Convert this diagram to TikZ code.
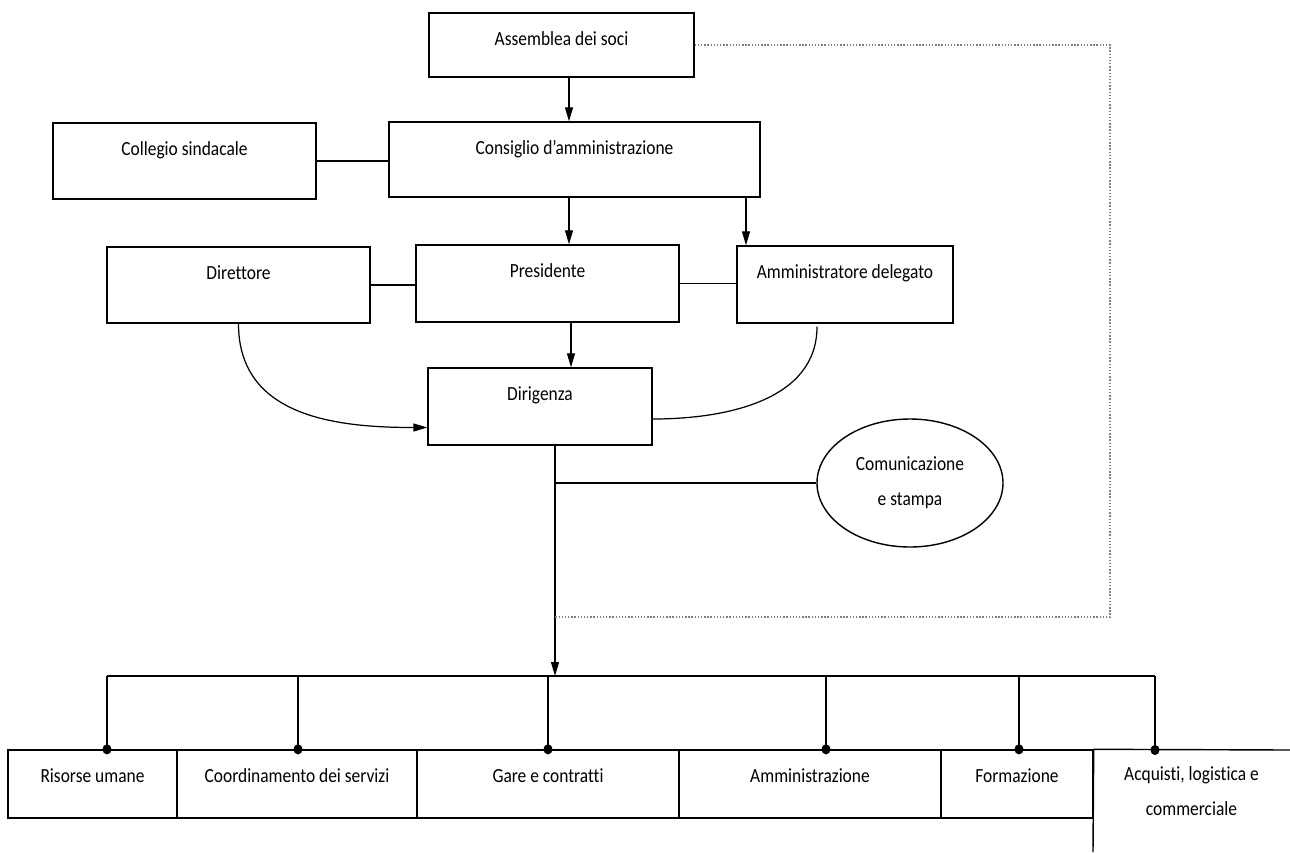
\documentclass[tikz,border=0pt]{standalone}
\usepackage{fontspec}
\setmainfont{Carlito}[FakeStretch=0.87, Ligatures=NoCommon]
\usepackage{tikz}
\usetikzlibrary{arrows.meta,calc,shapes.geometric}
\newcommand{\casella}[6]{
\node[casella, minimum width={(#4-#2)*0.2mm}, minimum height={(#5-#3)*0.2mm}, text depth={(#5-#3-32)*0.2mm}] (#1) at ({(#2+#4)/2},{(#3+#5)/2}) {#6};
}

\begin{document}
\begin{tikzpicture}[x=0.2mm, y=-0.2mm,
  every node/.style={font=\fontsize{11.4}{20}\selectfont},
  casella/.style={draw, line width=0.8pt, inner xsep=0pt, inner ysep=0pt, text height=6.4mm},
  ovale/.style={draw, ellipse, line width=0.8pt, inner sep=0pt, minimum width=37.2mm, minimum height=25.6mm, align=center},
  linea/.style={line width=0.7pt},
  freccia/.style={linea, -{Triangle[length=2.8mm,width=1.6mm]}},
  goccia/.style={linea, -{Circle[length=2mm,width=1.8mm]}, shorten >=-1mm},
  punti/.style={densely dotted, gray, line width=0.8pt}]

\useasboundingbox (0,0) rectangle (1290,852);

\casella{ass}{429}{13}{694}{77}{Assemblea dei soci}
\casella{cons}{389}{122}{760}{197}{Consiglio d’amministrazione}
\casella{coll}{53}{123}{316}{199}{Collegio sindacale}

\casella{dir}{107}{247}{370}{323}{Direttore}
\casella{pres}{416}{245}{679}{322}{Presidente}
\casella{ad}{737}{246}{953}{323}{Amministratore delegato}

\casella{dirig}{428}{368}{652}{445}{Dirigenza}

\node[ovale] (comm) at (910,483) {Comunicazione\\e stampa};

\casella{ris}{8}{750}{177}{818}{Risorse umane}
\casella{coord}{177}{750}{417}{818}{Coordinamento dei servizi}
\casella{gare}{417}{750}{679}{818}{Gare e contratti}
\casella{amm}{679}{750}{941}{818}{Amministrazione}
\casella{form}{941}{750}{1093}{818}{Formazione}
\node[anchor=north, align=center, inner xsep=0pt, inner ysep=3.2mm] (acq) at (1191.5,750) {Acquisti, logistica e\\commerciale};
\draw[line width=0.8pt] (form.north east) -- (1290,750);
\draw[line width=0.8pt] (form.north east) -- (1093,852);

\coordinate (x1) at (569,0);
\coordinate (x2) at (746,0);
\coordinate (x3) at (571,0);
\coordinate (bus) at (555,676);
\coordinate (ang) at (1110,617);

\draw[freccia] (ass.south -| x1) -- (cons.north -| x1);
\draw[freccia] (cons.south -| x1) -- (pres.north -| x1);
\draw[freccia] (cons.south -| x2) -- (ad.north -| x2);
\draw[freccia] (pres.south -| x3) -- (dirig.north -| x3);

\draw[linea] (coll.east) -- (coll.east -| cons.west);
\draw[linea] (dir.east) -- (dir.east -| pres.west);
\draw[linea] (pres.east) -- (pres.east -| ad.west);

\draw[freccia] (dir.south) to[out=-90, in=180, looseness=1.1] ($(dirig.west)+(0,21)$);
\draw[linea] ($(ad.south)+(-28,3)$) to[out=-90, in=0] ($(dirig.east)+(0,12.5)$);

\draw[freccia] (dirig.south -| bus) -- (bus);
\draw[linea] (comm.west -| bus) -- (comm.west);
\draw[punti] (ass.east) -| (ang) -- (ang -| bus);

\foreach \n/\x in {ris/107, coord/298, gare/548, amm/826, form/1019, acq/1155}
  \path (\x,676) coordinate (b\n);
\draw[linea] (bris) -- (bacq);
\foreach \n in {ris, coord, gare, amm, form, acq}
  \draw[goccia] (b\n) -- (\n.north -| b\n);

\end{tikzpicture}
\end{document}
